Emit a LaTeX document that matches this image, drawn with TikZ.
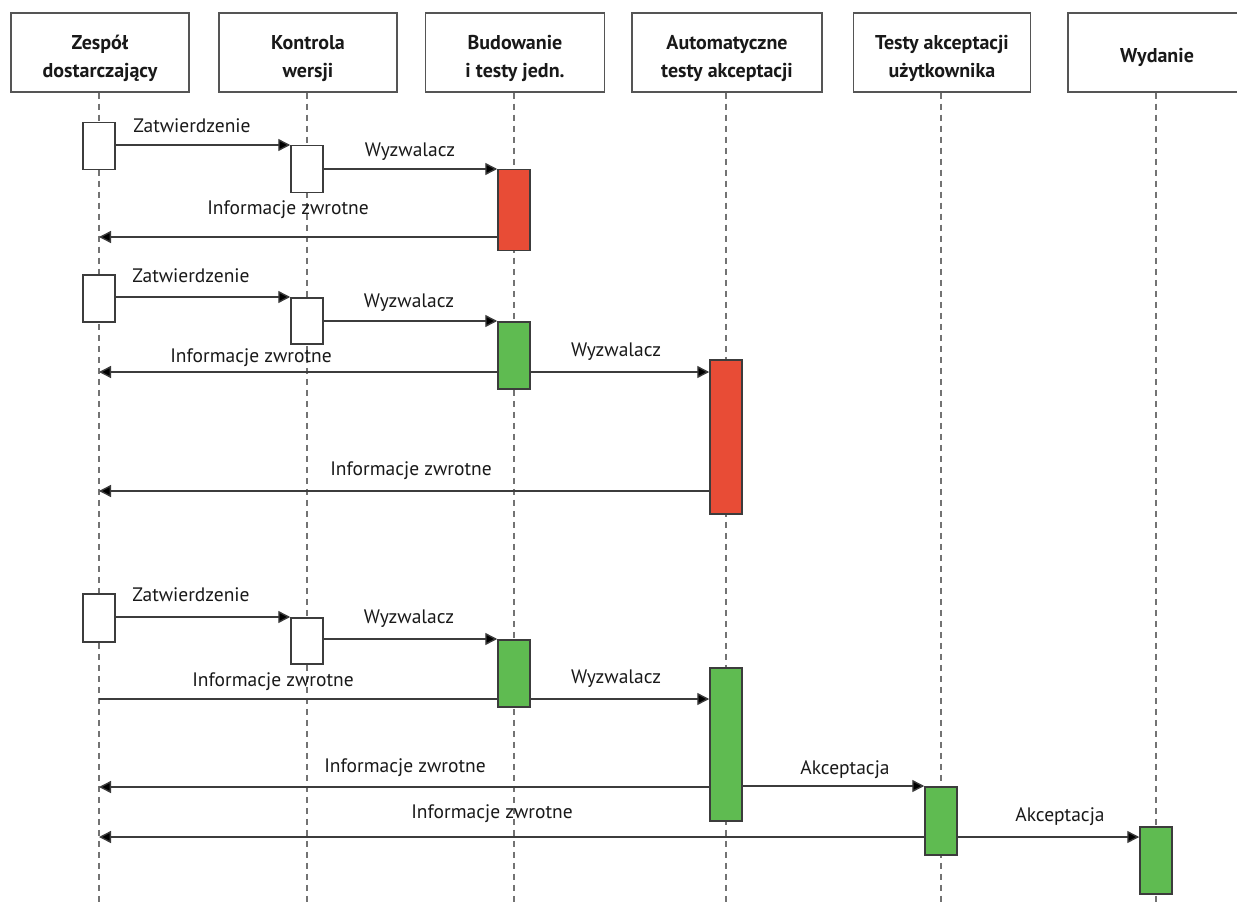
\documentclass[tikz,border=0pt]{standalone}
\usepackage{fontspec}
\setmainfont{PT Sans}
\usetikzlibrary{arrows.meta}
\definecolor{redact}{HTML}{E84C36}
\definecolor{greenact}{HTML}{5FBB51}
\definecolor{linegray}{HTML}{3C3C3C}
\definecolor{boxgray}{HTML}{555555}
\begin{document}
\begin{tikzpicture}[x=1pt,y=-1pt,
  header/.style={draw=boxgray, line width=1.5pt, minimum width=#1, minimum height=79pt, inner sep=0pt},
  htext/.style={font=\bfseries\fontsize{20}{28}\selectfont, align=center, inner sep=0pt, text=black!90},
  actbox/.style={draw=linegray, line width=1.5pt, minimum width=32pt, anchor=north, inner sep=0pt},
  msg/.style={draw=linegray, line width=1.4pt, -{Triangle[length=12pt,width=12pt,fill=black]}},
  flatline/.style={draw=linegray, line width=1.4pt},
  lbl/.style={font=\fontsize{19.5}{22}\selectfont, text height=0.75em, text depth=0.25em, inner sep=0pt, text=black!90},
  life/.style={draw=gray!90!black, line width=1.2pt, dash pattern=on 6pt off 5pt}]
\useasboundingbox (0,0) rectangle (1237,904);
\clip (0,0) rectangle (1237,904);
\fill[white] (0,0) rectangle (1237,904);

% headers
\node[header=178pt] (h1) at (100,52.5) {};
\node[header=178pt] (h2) at (308,52.5) {};
\node[header=179pt] (h3) at (515,52.5) {};
\node[header=190pt] (h4) at (727,52.5) {};
\node[header=177pt] (h5) at (942,52.5) {};
\node[header=178pt] (h6) at (1157,52.5) {};
\node[htext] (h1t) at ([yshift=-6pt]h1.center) {Zespół\\dostarczający};
\node[htext] (h2t) at ([yshift=-6pt]h2.center) {Kontrola\\wersji};
\node[htext] (h3t) at ([yshift=-6pt]h3.center) {Budowanie\\i testy jedn.};
\node[htext] (h4t) at ([yshift=-6pt]h4.center) {Automatyczne\\testy akceptacji};
\node[htext] (h5t) at ([yshift=-6pt]h5.center) {Testy akceptacji\\użytkownika};
\node[htext] (h6t) at ([yshift=-5pt]h6.center) {Wydanie};

% lifelines
\foreach \h in {h1,h2,h3,h4,h5,h6}
  \draw[life] ([xshift=-1pt]\h.south) -- ([xshift=-1pt]\h.south |- 0,904);

% activation boxes
\node[actbox, fill=white, minimum height=47pt] (a1) at (99,122) {};
\node[actbox, fill=white, minimum height=47pt] (b1) at (307,145) {};
\node[actbox, fill=redact, minimum height=81pt] (c1) at (514,169) {};

\node[actbox, fill=white, minimum height=47pt] (a2) at (99,274) {};
\node[actbox, fill=white, minimum height=46pt] (b2) at (307,297) {};
\node[actbox, fill=greenact, minimum height=67pt] (c2) at (514,321) {};
\node[actbox, fill=redact, minimum height=154pt] (d2) at (726,359) {};

\node[actbox, fill=white, minimum height=48pt] (a3) at (99,593) {};
\node[actbox, fill=white, minimum height=46pt] (b3) at (307,617) {};
\node[actbox, fill=greenact, minimum height=67pt] (c3) at (514,639) {};
\node[actbox, fill=greenact, minimum height=153pt] (d3) at (726,667) {};
\node[actbox, fill=greenact, minimum height=68pt] (e3) at (941,786) {};
\node[actbox, fill=greenact, minimum height=67pt] (f3) at (1156,826) {};

% round 1
\draw[msg] (a1.east |- b1.north) -- (b1.north west);
\draw[msg] (b1.east |- c1.north) -- (c1.north west);
\draw[msg] (c1.west |- 0,237) -- (a1.south |- 0,237);
\node[lbl] (t11) at (192,130) {Zatwierdzenie};
\node[lbl] (t12) at (410,154) {Wyzwalacz};
\node[lbl] (t13) at (288,212) {Informacje zwrotne};

% round 2
\draw[msg] (a2.east |- b2.north) -- (b2.north west);
\draw[msg] (b2.east |- c2.north) -- (c2.north west);
\draw[msg] (c2.west |- 0,372) -- (a2.south |- 0,372);
\draw[msg] (c2.east |- 0,372) -- (d2.west |- 0,372);
\draw[msg] (d2.west |- 0,491) -- (a2.south |- 0,491);
\node[lbl] (t21) at (191,280) {Zatwierdzenie};
\node[lbl] (t22) at (409,305) {Wyzwalacz};
\node[lbl] (t23) at (251,360) {Informacje zwrotne};
\node[lbl] (t24) at (616,354) {Wyzwalacz};
\node[lbl] (t25) at (411,473) {Informacje zwrotne};

% round 3
\draw[msg] (a3.east |- b3.north) -- (b3.north west);
\draw[msg] (b3.east |- c3.north) -- (c3.north west);
\draw[flatline] (a3.south |- 0,699) -- (c3.west |- 0,699);
\draw[msg] (c3.east |- 0,699) -- (d3.west |- 0,699);
\draw[msg] (d3.west |- 0,787) -- (a3.south |- 0,787);
\draw[msg] (d3.east |- e3.north) -- (e3.north west);
\draw[msg] (e3.west |- 0,837) -- (a3.south |- 0,837);
\draw[msg] (e3.east |- 0,837) -- (f3.west |- 0,837);
\node[lbl] (t31) at (191,599) {Zatwierdzenie};
\node[lbl] (t32) at (409,621) {Wyzwalacz};
\node[lbl] (t33) at (273,684) {Informacje zwrotne};
\node[lbl] (t34) at (616,681) {Wyzwalacz};
\node[lbl] (t35) at (405,770) {Informacje zwrotne};
\node[lbl] (t36) at (845,772) {Akceptacja};
\node[lbl] (t37) at (492,816) {Informacje zwrotne};
\node[lbl] (t38) at (1060,819) {Akceptacja};
\end{tikzpicture}
\end{document}
